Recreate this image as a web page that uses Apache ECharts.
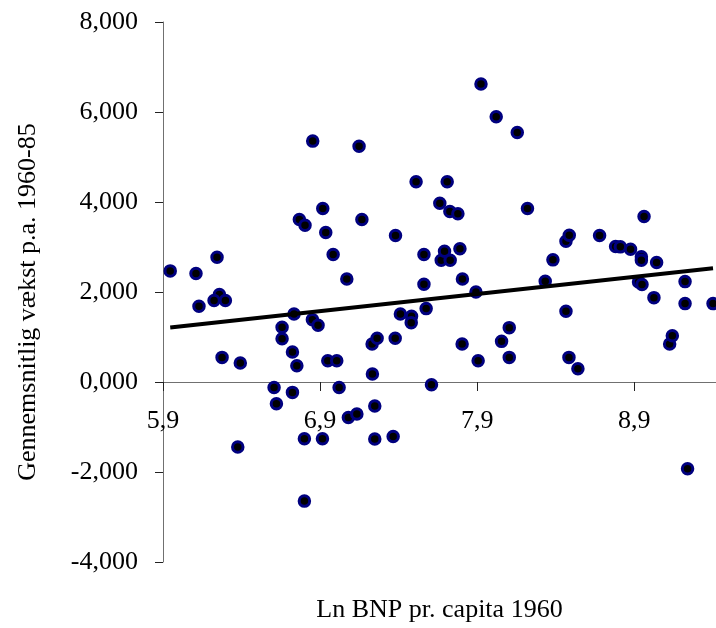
<!DOCTYPE html>
<html>
<head>
<meta charset="utf-8">
<script src="https://cdn.jsdelivr.net/npm/echarts@6/dist/echarts.min.js"></script>
<style>
  html, body { margin: 0; padding: 0; background: #fff; }
  #main { width: 716px; height: 628px; }
</style>
</head>
<body>
<div id="main"></div>
<script>
// ln BNP pr. capita 1960 (x) og gennemsnitlig vaekst p.a. 1960-85 (y)
const lnBnp = [
  5.946, 6.110, 6.244, 6.259, 6.225, 6.297, 6.129, 6.276, 6.392, 6.376,
  6.607, 6.622, 6.658, 6.658, 6.724, 6.752, 6.724, 6.734, 6.768, 6.804,
  6.853, 6.800, 6.800, 6.851, 6.887, 6.915, 6.917, 6.936, 6.949, 7.006,
  6.983, 7.021, 7.070, 7.080, 7.134, 7.148, 7.166, 7.233, 7.231, 7.263,
  7.248, 7.248, 7.365, 7.378, 7.380, 7.411, 7.482, 7.480, 7.511, 7.561,
  7.561, 7.575, 7.609, 7.662, 7.671, 7.692, 7.709, 7.726, 7.728, 7.777,
  7.790, 7.806, 7.804, 7.892, 7.906, 7.924, 8.021, 8.055, 8.104, 8.104,
  8.155, 8.220, 8.333, 8.382, 8.465, 8.486, 8.465, 8.484, 8.541, 8.679,
  8.781, 8.811, 8.876, 8.945, 8.945, 8.962, 9.042, 8.927, 8.949, 9.025,
  9.125, 9.142, 9.223, 9.223, 9.239, 9.401
];
const vaekst = [
  2.469, 2.409, 2.772, 1.942, 1.809, 1.809, 1.682, 0.547, 0.423, -1.446,
  -0.120, -0.483, 1.215, 0.963, 0.667, 0.363, -0.231, 1.513, 3.611, 3.484,
  5.353, -1.261, -2.647, 1.386, 1.259, -1.261, 3.855, 3.321, 0.474, 0.474,
  2.832, -0.120, 2.291, -0.788, -0.712, 5.241, 3.611, 0.178, 0.845, 0.970,
  -0.534, -1.268, -1.210, 0.970, 3.255, 1.513, 1.459, 1.319, 4.449, 2.832,
  2.171, 1.631, -0.060, 3.973, 2.705, 2.905, 4.449, 3.789, 2.705, 3.738,
  2.959, 2.291, 0.845, 2.002, 0.474, 6.621, 5.895, 0.903, 1.208, 0.547,
  5.546, 3.855, 2.238, 2.714, 3.128, 3.261, 1.571, 0.547, 0.296, 3.255,
  3.010, 3.003, 2.950, 2.781, 2.705, 3.677, 2.654, 2.225, 2.165, 1.875,
  0.845, 1.030, 2.231, 1.742, -1.929, 1.742
];
// lineaer trendlinje (endepunkter)
const trendX = [5.946, 9.401];
const trendY = [1.21, 2.53];
const xTicks = [5.9, 6.9, 7.9, 8.9];

const points = lnBnp.map((x, i) => [x, vaekst[i]]);
const trend = trendX.map((x, i) => [x, trendY[i]]);

const font = "'Liberation Serif', 'DejaVu Serif', serif";

// x-aksen skal krydse ved y = 0 (grid 22..562, y fra -4 til 8)
const gridTop = 22;
const gridBottom = 66;
const plotH = 628 - gridTop - gridBottom;
const zeroOffset = -plotH * (4 / 12);

const option = {
  animation: false,
  grid: {
    left: 163,
    right: 0,
    top: gridTop,
    bottom: gridBottom,
    containLabel: false,
    outerBoundsMode: "none"
  },
  xAxis: {
    type: "value",
    position: "bottom",
    offset: zeroOffset,
    min: 5.9,
    max: 9.42,
    name: "Ln BNP pr. capita 1960",
    nameLocation: "middle",
    nameGap: 215,
    nameTextStyle: {
      color: "#000",
      fontFamily: font,
      fontSize: 26
    },
    axisLine: {
      onZero: false,
      lineStyle: { color: "#707070", width: 1 }
    },
    axisTick: {
      show: true,
      length: 9,
      customValues: xTicks,
      lineStyle: { color: "#222" }
    },
    axisLabel: {
      customValues: xTicks,
      margin: 26,
      color: "#000",
      fontFamily: font,
      fontSize: 26,
      formatter: v => v.toFixed(1).replace(".", ",")
    },
    splitLine: { show: false }
  },
  yAxis: {
    type: "value",
    min: -4,
    max: 8,
    interval: 2,
    name: "Gennemsnitlig vækst p.a. 1960-85",
    nameLocation: "middle",
    nameGap: 122,
    nameTextStyle: {
      color: "#000",
      fontFamily: font,
      fontSize: 26,
      padding: [0, 20, 0, 0]
    },
    axisLine: {
      show: true,
      onZero: false,
      lineStyle: { color: "#707070", width: 1 }
    },
    axisTick: {
      show: true,
      length: 8,
      lineStyle: { color: "#222" }
    },
    axisLabel: {
      margin: 25,
      color: "#000",
      fontFamily: font,
      fontSize: 26,
      formatter: v => v.toFixed(3).replace(".", ",")
    },
    splitLine: { show: false }
  },
  series: [
    {
      type: "scatter",
      data: points,
      symbol: "circle",
      symbolSize: 10.5,
      itemStyle: {
        color: "#000",
        opacity: 1,
        borderColor: "#00007f",
        borderWidth: 3
      },
      z: 2
    },
    {
      type: "line",
      data: trend,
      symbol: "none",
      lineStyle: { color: "#000", width: 4 },
      z: 3
    }
  ]
};

const myChart = echarts.init(document.getElementById("main"));
myChart.setOption(option);
</script>
</body>
</html>
